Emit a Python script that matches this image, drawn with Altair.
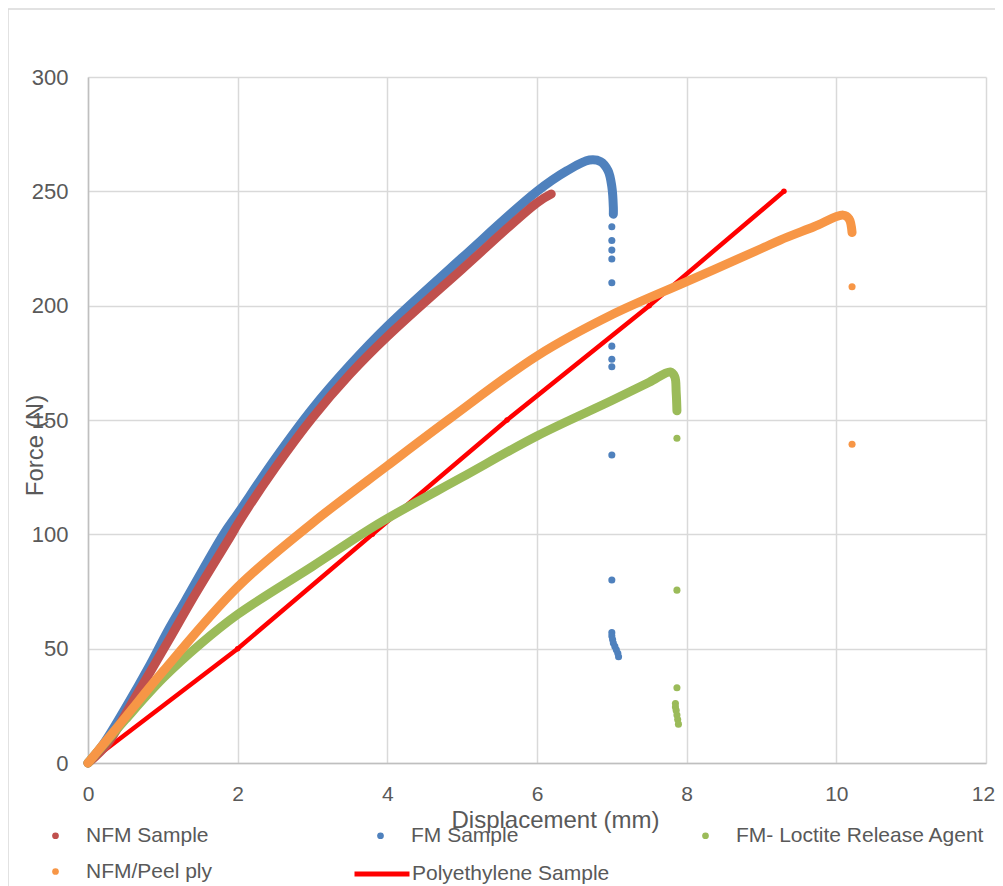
import altair as alt
import pandas as pd

# ---------------- data ----------------
SERIES = ["NFM Sample", "FM Sample", "FM- Loctite Release Agent", "NFM/Peel ply"]
COLORS = ["#C0504D", "#4F81BD", "#9BBB59", "#F79646"]
PE_NAME = "Polyethylene Sample"

# FM Sample (blue) continuous part
fm_x = [0, 0.2, 0.5, 0.83, 1.07, 1.3, 1.81, 2.0, 2.5, 3.0, 3.5, 4.0, 5.0, 6.0, 6.4, 6.7, 6.85, 6.95, 7.0, 7.02, 7.02]
fm_y = [0, 8, 24, 43, 58, 71, 100, 109, 133, 155, 174, 191, 221, 250, 259, 263.7, 263, 259, 252, 243, 240]
# FM Sample isolated points after failure
fm_drop_x = [7.0, 7.0, 7.0, 7.0, 7.0, 7.0, 7.0, 7.0, 7.0, 7.0, 7.0, 7.0, 7.01, 7.02, 7.04, 7.06, 7.08, 7.09]
fm_drop_y = [234.5, 228.5, 224.3, 220.4, 210, 182.3, 176.6, 173.3, 134.7, 80, 57, 55.5, 54, 52.5, 51, 49.5, 48, 46.5]

# NFM Sample (dark red)
nfm_x = [0, 0.25, 0.6, 1.12, 1.4, 1.92, 2.0, 2.5, 3.0, 3.5, 4.0, 5.0, 6.0, 6.19]
nfm_y = [0, 8, 27, 56, 72, 100, 104.5, 129, 151, 170, 186.5, 216, 245, 248.8]

# FM- Loctite Release Agent (green)
lo_x = [0, 0.5, 1.0, 1.5, 2.0, 3.0, 3.9, 5.0, 6.0, 7.0, 7.5, 7.78, 7.84, 7.86, 7.87]
lo_y = [0, 19, 37, 52, 65, 86, 105, 125, 143, 158.5, 166.5, 171, 169, 162, 154]
lo_drop_x = [7.87, 7.87, 7.87, 7.85, 7.85, 7.86, 7.87, 7.88, 7.89]
lo_drop_y = [142, 75.6, 32.9, 26, 24.5, 23, 21, 19, 17]

# NFM/Peel ply (orange)
pp_x = [0, 0.5, 1.0, 2.0, 3.0, 4.0, 4.84, 6.0, 7.0, 8.0, 9.0, 9.25, 9.7, 10.09, 10.17, 10.21]
pp_y = [0, 20, 40, 77, 105, 130, 150.7, 178, 196, 210.5, 225, 228.7, 234.5, 239.6, 238, 232]
pp_drop_x = [10.21, 10.21]
pp_drop_y = [208.3, 139.4]

# Polyethylene Sample (red line with markers)
pe_x = [0, 2.0, 3.8, 5.6, 7.5, 9.3]
pe_y = [0, 50, 100, 150, 200, 250]

X_TICKS = [0, 2, 4, 6, 8, 10, 12]
Y_TICKS = [0, 50, 100, 150, 200, 250, 300]

# ---------------- tables ----------------
def curve(name, xs, ys):
    return [dict(series=name, x=a, y=b, i=k) for k, (a, b) in enumerate(zip(xs, ys))]

curve_defs = [
    ("FM Sample", fm_x, fm_y),
    ("NFM Sample", nfm_x, nfm_y),
    ("FM- Loctite Release Agent", lo_x, lo_y),
    ("NFM/Peel ply", pp_x, pp_y),
]
drops = pd.DataFrame(
    curve("FM Sample", fm_drop_x, fm_drop_y)
    + curve("FM- Loctite Release Agent", lo_drop_x, lo_drop_y)
    + curve("NFM/Peel ply", pp_drop_x, pp_drop_y)
    + curve("NFM Sample", nfm_x[-1:], nfm_y[-1:])
)
pe = pd.DataFrame(curve(PE_NAME, pe_x, pe_y))

FONT = "Liberation Sans"
GREY = "#595959"

xs = alt.Scale(domain=[0, 12], nice=False, zero=False)
ys = alt.Scale(domain=[0, 300], nice=False)
cscale = alt.Scale(domain=SERIES, range=COLORS)
color_of = dict(zip(SERIES, COLORS))

x_axis = alt.Axis(values=X_TICKS, format="d", title="Displacement (mm)", grid=True, ticks=False,
                  labelFlush=False, labelPadding=20, labelFontSize=21, labelFont=FONT,
                  labelColor=GREY,
                  labelOffset=alt.condition("datum.value == 12", alt.value(-3), alt.value(0)),
                  titleFont=FONT, titleFontSize=24, titleFontWeight="normal", titleColor=GREY,
                  titleX=467, titleY=57, titleBaseline="middle", titleAnchor="middle")
y_axis = alt.Axis(values=Y_TICKS, format="d", title="Force (N)", grid=True, ticks=False,
                  labelFlush=False, labelPadding=20, labelFontSize=22, labelFont=FONT,
                  labelColor=GREY,
                  titleFont=FONT, titleFontSize=24, titleFontWeight="normal", titleColor=GREY,
                  titleX=-53, titleY=368, titleAngle=-90, titleAlign="center",
                  titleBaseline="middle")

border = alt.Chart(pd.DataFrame({"a": [0]})).mark_rect(
    fillOpacity=0, stroke="#d9d9d9", strokeWidth=1.5
).encode(x=alt.value(-80), x2=alt.value(1000), y=alt.value(-68), y2=alt.value(900))

pe_line = alt.Chart(pe).mark_line(strokeWidth=4.5, strokeCap="round").encode(
    x=alt.X("x:Q", scale=xs, axis=x_axis),
    y=alt.Y("y:Q", scale=ys, axis=y_axis),
    order="i:Q",
    stroke=alt.Stroke("series:N", scale=alt.Scale(domain=[PE_NAME], range=["#FF0000"]),
                      legend=alt.Legend(title=None, orient="none", legendX=264, legendY=767,
                                        symbolType="stroke", symbolSize=3025,
                                        symbolStrokeWidth=5, labelOffset=0, labelLimit=400,
                                        labelFont=FONT, labelFontSize=21, labelColor=GREY)),
)
pe_pts = alt.Chart(pe).mark_circle(size=30, opacity=1, color="#FF0000").encode(
    x=alt.X("x:Q", scale=xs), y=alt.Y("y:Q", scale=ys)
)

line_layers = []
for name, cx, cy in curve_defs:
    line_layers.append(
        alt.Chart(pd.DataFrame(curve(name, cx, cy))).mark_line(
            strokeWidth=9, strokeCap="round", strokeJoin="round",
            interpolate="catmull-rom", color=color_of[name]
        ).encode(
            x=alt.X("x:Q", scale=xs),
            y=alt.Y("y:Q", scale=ys),
            order="i:Q",
        )
    )

pts = alt.Chart(drops).mark_circle(size=50, opacity=1).encode(
    x=alt.X("x:Q", scale=xs),
    y=alt.Y("y:Q", scale=ys),
    color=alt.Color("series:N", scale=cscale,
                    legend=alt.Legend(title=None, orient="none", legendX=-43, legendY=748,
                                      direction="horizontal", columns=3, gridAlign="all",
                                      columnPadding=35, rowPadding=14, labelLimit=400,
                                      symbolType="circle", symbolSize=45, symbolStrokeWidth=0,
                                      labelOffset=20, labelFont=FONT, labelFontSize=21,
                                      labelColor=GREY)),
)

chart = alt.layer(border, pe_line, pe_pts, *line_layers, pts).properties(
    width=898, height=686,
    autosize=alt.AutoSizeParams(type="none"),
    padding={"left": 80, "top": 69, "right": 9, "bottom": 131},
).configure_view(stroke=None).configure_axis(
    gridColor="#d9d9d9", gridWidth=1.5, domainColor="#bfbfbf", domainWidth=1.5
)

chart.save("out.html", embed_options={"renderer": "svg", "actions": False})
